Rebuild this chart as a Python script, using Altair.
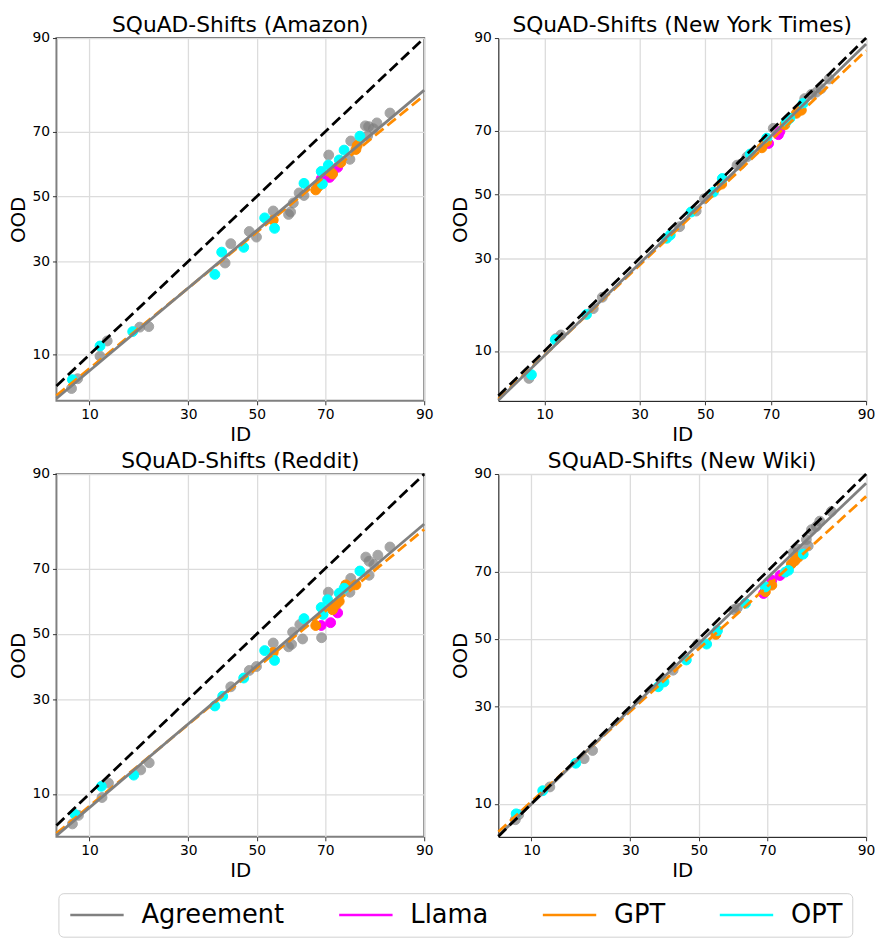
import altair as alt
import pandas as pd
from statistics import NormalDist

_nd = NormalDist()


def probit(p):
    return _nd.inv_cdf(p / 100.0)


FAMILIES = ["Agreement", "Llama", "GPT", "OPT"]
FAMILY_COLORS = ["gray", "magenta", "darkorange", "cyan"]
TICKS = [10, 30, 50, 70, 90]
PANELS = ["Amazon", "New York Times", "Reddit", "New Wiki"]
X_LO = [6.25, 4.96, 6.25, 6.24]
Y_LO = [4.9, 4.55, 5.2, 6.2]
HI = 90

# ---------------- Amazon ----------------
amazon_agreement = [(7.8, 6.0), (8.5, 7.0), (11.5, 9.8), (12.6, 12.1), (18.5, 14.5), (20.4, 14.6),
                    (40.4, 29.5), (42.1, 35.1), (47.7, 38.8), (49.9, 37.1), (55.0, 45.3), (59.6, 44.2),
                    (60.2, 45.0), (61.0, 47.9), (62.7, 51.1), (64.1, 50.3), (70.9, 63.1), (71.9, 57.7),
                    (76.2, 61.8), (76.4, 67.3), (79.7, 71.6), (80.4, 71.4), (81.4, 70.8), (82.1, 72.4),
                    (84.6, 75.0), (80.2, 68.8)]
amazon_llama = [(68.9, 55.6), (71.1, 56.1), (71.5, 56.7), (73.2, 59.3)]
amazon_gpt = [(55.0, 42.4), (67.4, 52.1), (68.0, 53.0), (71.9, 57.2), (74.0, 60.8), (77.6, 64.8),
              (77.9, 66.0)]
amazon_opt = [(7.9, 6.9), (11.5, 11.3), (17.1, 13.7), (37.4, 26.4), (39.4, 32.6), (46.0, 34.0),
              (52.4, 43.1), (55.4, 39.8), (64.1, 54.2), (68.9, 58.0), (69.2, 54.0), (70.8, 60.0),
              (73.6, 61.6), (74.8, 64.6), (78.5, 68.7)]
amazon_agreement_fit = [(6.25, 5.1), (90, 80.5)]
amazon_accuracy_fit = [(6.25, 5.35), (90, 79.3)]

# ---------------- New York Times ----------------
nyt_agreement = [(8.0, 6.6), (11.7, 11.9), (12.5, 12.5), (18.6, 17.5), (20.6, 20.0), (41.9, 39.6),
                 (47.1, 44.6), (49.7, 48.6), (60.0, 59.5), (61.1, 59.8), (63.0, 62.1), (70.6, 70.6),
                 (78.6, 78.4), (80.1, 79.4), (81.2, 79.9), (82.2, 80.7), (83.8, 82.8)]
nyt_llama = [(69.3, 66.2), (72.0, 68.8), (72.4, 69.7)]
nyt_gpt = [(55.2, 53.4), (67.4, 64.9), (68.8, 66.8), (73.7, 71.6), (76.6, 74.7), (77.8, 75.5)]
nyt_opt = [(8.3, 7.0), (11.6, 11.7), (17.2, 16.3), (37.9, 36.0), (39.0, 37.0), (45.5, 44.3),
           (52.6, 50.8), (55.4, 55.2), (64.0, 63.0), (68.8, 67.8), (74.1, 72.5), (75.0, 73.4),
           (78.2, 77.2)]
nyt_agreement_fit = [(4.96, 4.6), (90, 89.1)]
nyt_accuracy_fit = [(4.96, 4.7), (90, 88.1)]

# ---------------- Reddit ----------------
reddit_agreement = [(7.9, 6.4), (8.6, 7.3), (11.8, 9.5), (12.8, 11.6), (18.7, 13.8), (20.5, 15.1),
                    (42.1, 33.6), (47.7, 38.5), (49.9, 39.7), (55.0, 47.1), (59.6, 45.9), (60.5, 46.7),
                    (60.8, 50.6), (63.7, 48.4), (62.9, 53.0), (69.0, 48.8), (70.8, 63.1), (76.4, 67.2),
                    (76.2, 63.1), (79.8, 73.1), (80.5, 72.0), (80.5, 68.1), (81.5, 71.1), (82.3, 73.6),
                    (84.6, 75.7)]
reddit_llama = [(68.9, 52.7), (71.4, 53.6), (73.2, 56.7)]
reddit_gpt = [(55.0, 44.1), (67.4, 52.7), (71.9, 57.7), (72.8, 59.3), (73.6, 60.3), (75.2, 65.3),
              (77.6, 65.3)]
reddit_opt = [(8.2, 7.4), (11.7, 11.1), (17.3, 12.9), (37.4, 28.2), (39.7, 30.9), (46.0, 36.2),
              (52.4, 44.7), (55.4, 41.6), (64.1, 54.9), (68.9, 58.4), (69.4, 56.2), (70.6, 60.8),
              (73.6, 62.8), (74.8, 64.3), (78.5, 69.3)]
reddit_agreement_fit = [(6.25, 5.3), (90, 81.1)]
reddit_accuracy_fit = [(6.25, 5.5), (90, 79.9)]

# ---------------- New Wiki ----------------
wiki_agreement = [(8.0, 8.0), (8.4, 8.6), (12.7, 12.5), (19.0, 17.6), (20.8, 19.3), (42.2, 40.4),
                  (49.7, 48.4), (60.6, 59.0), (61.6, 59.5), (76.5, 74.9), (77.7, 75.7), (79.5, 78.0),
                  (79.9, 76.5), (80.6, 80.2), (81.6, 80.9), (82.3, 82.0), (84.5, 83.9)]
wiki_llama = [(69.0, 63.8), (71.2, 67.6), (73.3, 68.9)]
wiki_gpt = [(55.2, 51.4), (69.5, 64.3), (71.2, 66.2), (76.1, 72.0), (76.9, 72.8), (77.7, 73.7)]
wiki_opt = [(8.1, 8.7), (11.6, 11.9), (17.3, 16.7), (37.8, 35.5), (39.5, 36.9), (46.2, 43.5),
            (52.4, 48.4), (55.7, 52.6), (64.0, 60.9), (69.5, 65.7), (74.6, 69.8), (75.4, 70.3),
            (78.8, 74.5)]
wiki_agreement_fit = [(6.24, 6.3), (90, 88.7)]
wiki_accuracy_fit = [(6.24, 6.7), (90, 86.6)]

POINTS = {
    "Amazon": [amazon_agreement, amazon_llama, amazon_gpt, amazon_opt],
    "New York Times": [nyt_agreement, nyt_llama, nyt_gpt, nyt_opt],
    "Reddit": [reddit_agreement, reddit_llama, reddit_gpt, reddit_opt],
    "New Wiki": [wiki_agreement, wiki_llama, wiki_gpt, wiki_opt],
}
FITS = {
    "Amazon": (amazon_agreement_fit, amazon_accuracy_fit),
    "New York Times": (nyt_agreement_fit, nyt_accuracy_fit),
    "Reddit": (reddit_agreement_fit, reddit_accuracy_fit),
    "New Wiki": (wiki_agreement_fit, wiki_accuracy_fit),
}

BORDERS = {"Amazon": ("#808080", 2), "New York Times": ("black", 1),
           "Reddit": ("#808080", 2), "New Wiki": ("black", 1)}

FONT = "DejaVu Sans"
W, H = 372, 367

PROBIT_CALC = dict(px="quantileNormal(datum.id / 100)", py="quantileNormal(datum.ood / 100)")
LABEL_EXPR = "format(cumulativeNormal(datum.value) * 100, '.0f')"


def make_panel(i):
    name = PANELS[i]
    rows = []
    for fam, pts in zip(FAMILIES, POINTS[name]):
        for a, b in pts:
            rows.append({"family": fam, "id": a, "ood": b})
    pts_df = pd.DataFrame(rows)

    agree_fit, acc_fit = FITS[name]
    ref_df = pd.DataFrame({"id": [X_LO[i], HI], "ood": [X_LO[i], HI]})
    agree_df = pd.DataFrame({"id": [p[0] for p in agree_fit], "ood": [p[1] for p in agree_fit]})
    acc_df = pd.DataFrame({"id": [p[0] for p in acc_fit], "ood": [p[1] for p in acc_fit]})

    xscale = alt.Scale(domain=[probit(X_LO[i]), probit(HI)], nice=False, zero=False)
    yscale = alt.Scale(domain=[probit(Y_LO[i]), probit(HI)], nice=False, zero=False)
    tickvals = [probit(t) for t in TICKS]
    xenc = alt.X("px:Q", scale=xscale,
                 axis=alt.Axis(values=tickvals, labelExpr=LABEL_EXPR, title="ID"))
    yenc = alt.Y("py:Q", scale=yscale,
                 axis=alt.Axis(values=tickvals, labelExpr=LABEL_EXPR, title="OOD"))

    cscale = alt.Scale(domain=FAMILIES, range=FAMILY_COLORS)
    points = (
        alt.Chart(pts_df)
        .transform_calculate(**PROBIT_CALC)
        .mark_point(filled=False, shape="circle", size=100, strokeWidth=1)
        .encode(
            x=xenc,
            y=yenc,
            color=alt.Color("family:N", scale=cscale, sort=FAMILIES,
                            legend=alt.Legend(
                                title=None, orient="none", direction="horizontal",
                                legendX=2, legendY=865,
                                symbolType="M-1,0H4.4", symbolSize=400, symbolStrokeWidth=2.5,
                                labelFont=FONT, labelFontSize=26, labelColor="black",
                                labelOffset=49, columnPadding=50, padding=9,
                                strokeColor="#d0d0d0", cornerRadius=5, fillColor="white",
                                labelLimit=0, symbolOpacity=1)),
            fill=alt.Fill("family:N", scale=cscale, legend=None),
            opacity=alt.when(alt.datum.family == "Agreement").then(alt.value(0.7)).otherwise(alt.value(1.0)),
        )
    )

    def line(df, **kw):
        return (
            alt.Chart(df)
            .transform_calculate(**PROBIT_CALC)
            .mark_line(**kw)
            .encode(x=xenc, y=yenc)
        )

    agree_line = line(agree_df, color="gray", strokeWidth=2.8)
    acc_line = line(acc_df, color="darkorange", strokeWidth=2.8, strokeDash=[11, 5])
    ref_line = line(ref_df, color="black", strokeWidth=2.8, strokeDash=[11, 5])

    stroke, sw = BORDERS[name]
    return alt.layer(points, acc_line, agree_line, ref_line).properties(
        width=W, height=H,
        title=alt.TitleParams(f"SQuAD-Shifts ({name})", font=FONT, fontSize=22,
                              fontWeight="normal", color="black", offset=-6),
        view=alt.ViewBackground(stroke=stroke, strokeWidth=sw),
    )


row1 = alt.hconcat(make_panel(0), make_panel(1), spacing=16)
row2 = alt.hconcat(make_panel(2), make_panel(3), spacing=16)
chart = (
    alt.vconcat(row1, row2, spacing=4)
    .properties(padding={"left": 0, "top": 0, "right": 0, "bottom": 0})
    .configure_axis(
        labelFont=FONT, labelFontSize=14, labelColor="black", labelFlush=False,
        titleFont=FONT, titleFontSize=20, titleFontWeight="normal", titleColor="black",
        grid=True, gridColor="#dcdcdc", gridWidth=1.3,
        domain=False, ticks=True, tickSize=4, tickColor="#333333", tickWidth=1,
        labelPadding=3, titlePadding=3,
    )
    .configure_view(stroke="black")
)

chart.save("out.html", embed_options={"renderer": "svg", "actions": False})
